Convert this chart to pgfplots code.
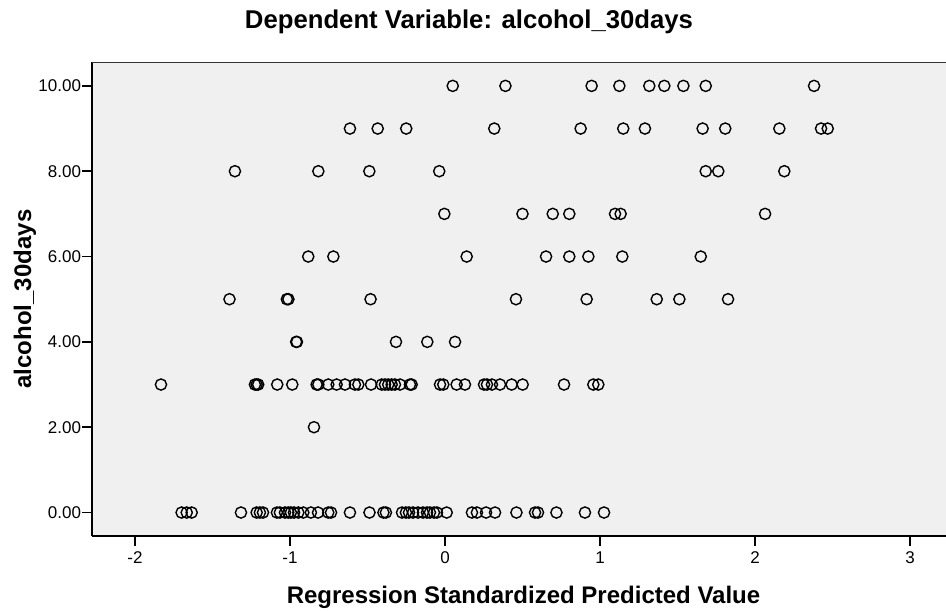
\documentclass[border=0pt]{standalone}
\usepackage{fontspec}
\setmainfont{Liberation Sans}
\usepackage{pgfplots}
\pgfplotsset{compat=1.18}
\definecolor{plotbg}{HTML}{F0F0F0}
\pgfplotsset{dot/.style={only marks, mark=o, mark size=5.6pt, line width=1.4pt, black}}
\begin{document}
\begin{tikzpicture}[x=1pt,y=1pt]
\useasboundingbox (0,0) rectangle (946,611);
\begin{axis}[
    at={(92pt,75pt)}, anchor=south west,
    scale only axis,
    width=854pt, height=474pt,
    xmin=-2.277, xmax=3.232,
    ymin=-0.55, ymax=10.56,
    axis background/.style={fill=plotbg},
    axis x line*=bottom, axis y line*=left,
    axis line style={line width=1.8pt, -},
    tick align=outside,
    major tick length=10pt,
    tick style={line width=1.8pt, black},
    xtick={-2,-1,0,1,2,3},
    ytick={0,2,4,6,8,10},
    yticklabel style={/pgf/number format/fixed, /pgf/number format/fixed zerofill, /pgf/number format/precision=2, xshift=2.5pt},
    /pgf/number format/assume math mode=true,
    ticklabel style={font=\fontsize{17}{20}\selectfont},
    xticklabel style={yshift=-2pt},
    clip=false,
]
% y = 0
\addplot[dot] coordinates {
(-1.699,0)(-1.666,0)(-1.634,0)(-1.316,0)(-1.215,0)(-1.194,0)(-1.174,0)
(-1.084,0)(-1.065,0)(-1.032,0)(-1.011,0)(-0.994,0)(-0.974,0)(-0.946,0)
(-0.914,0)(-0.865,0)(-0.819,0)(-0.753,0)(-0.735,0)(-0.613,0)(-0.487,0)
(-0.397,0)(-0.381,0)(-0.277,0)(-0.252,0)(-0.232,0)(-0.206,0)(-0.174,0)
(-0.142,0)(-0.116,0)(-0.097,0)(-0.071,0)(-0.052,0)(0.011,0)(0.174,0)
(0.206,0)(0.265,0)(0.323,0)(0.461,0)(0.581,0)(0.600,0)(0.719,0)
(0.903,0)(1.026,0)
};
% y = 2
\addplot[dot] coordinates {
(-0.845,2)
};
% y = 3
\addplot[dot] coordinates {
(-1.832,3)(-1.226,3)(-1.215,3)(-1.205,3)(-1.082,3)(-0.985,3)(-0.828,3)
(-0.817,3)(-0.753,3)(-0.699,3)(-0.645,3)(-0.581,3)(-0.559,3)(-0.477,3)
(-0.408,3)(-0.387,3)(-0.366,3)(-0.344,3)(-0.323,3)(-0.290,3)(-0.226,3)
(-0.215,3)(-0.032,3)(-0.011,3)(0.075,3)(0.129,3)(0.252,3)(0.271,3)
(0.303,3)(0.355,3)(0.430,3)(0.501,3)(0.768,3)(0.957,3)(0.989,3)
};
% y = 4
\addplot[dot] coordinates {
(-0.960,4)(-0.955,4)(-0.316,4)(-0.114,4)(0.065,4)
};
% y = 5
\addplot[dot] coordinates {
(-1.390,5)(-1.020,5)(-1.010,5)(-0.480,5)(0.458,5)(0.914,5)(1.366,5)
(1.512,5)(1.826,5)
};
% y = 6
\addplot[dot] coordinates {
(-0.882,6)(-0.720,6)(0.140,6)(0.652,6)(0.802,6)(0.925,6)(1.144,6)(1.650,6)
};
% y = 7
\addplot[dot] coordinates {
(-0.004,7)(0.500,7)(0.695,7)(0.802,7)(1.097,7)(1.133,7)(2.065,7)
};
% y = 8
\addplot[dot] coordinates {
(-1.355,8)(-0.817,8)(-0.488,8)(-0.037,8)(1.682,8)(1.763,8)(2.189,8)
};
% y = 9
\addplot[dot] coordinates {
(-0.613,9)(-0.434,9)(-0.250,9)(0.318,9)(0.875,9)(1.150,9)(1.290,9)
(1.662,9)(1.808,9)(2.157,9)(2.426,9)(2.469,9)
};
% y = 10
\addplot[dot] coordinates {
(0.050,10)(0.390,10)(0.946,10)(1.125,10)(1.318,10)(1.415,10)(1.538,10)
(1.682,10)(2.381,10)
};
\draw[line width=0.9pt, black!80] (rel axis cs:0,1) -- (rel axis cs:1,1);
\end{axis}
\node[font=\bfseries\fontsize{25.7}{30}\selectfont] at (469,589) {Dependent Variable: alcohol\_30days};
\node[font=\bfseries\fontsize{24}{28}\selectfont] at (523.5,14) {Regression Standardized Predicted Value};
\node[font=\bfseries\fontsize{24}{28}\selectfont, rotate=90] at (25,312) {alcohol\_30days};
\end{tikzpicture}
\end{document}
